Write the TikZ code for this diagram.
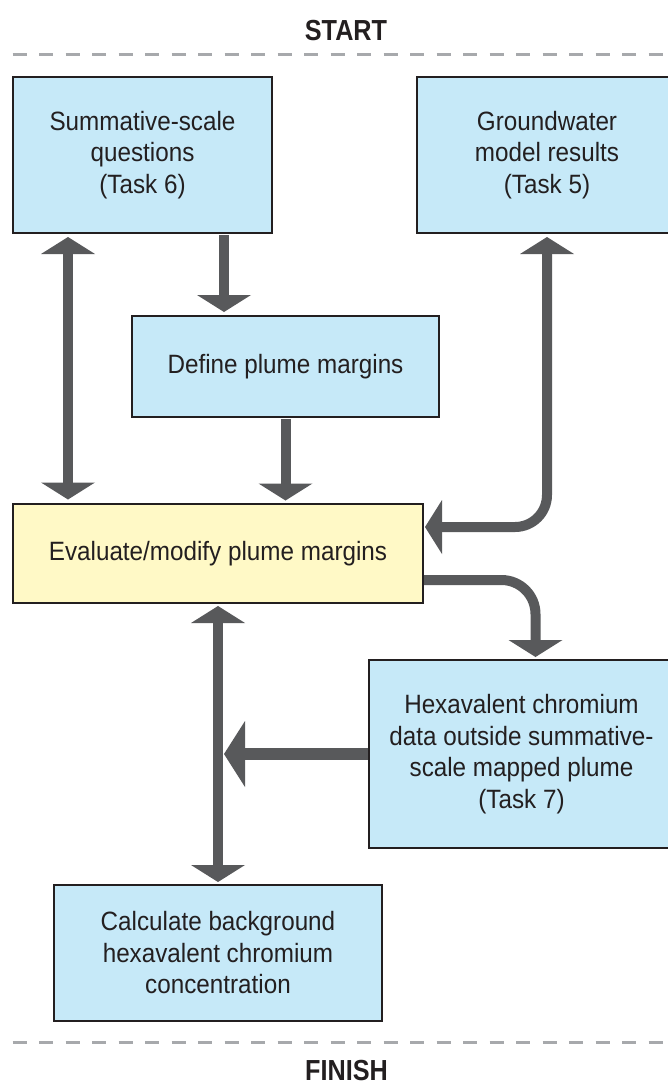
\documentclass[tikz,border=0pt]{standalone}
\usepackage{fontspec}
\setmainfont[FakeStretch=0.915]{Liberation Sans}
\newfontfamily\headfont[FakeStretch=0.87]{Liberation Sans}
\usetikzlibrary{arrows.meta,calc}
\definecolor{boxblue}{HTML}{C6E9F8}
\definecolor{boxyellow}{HTML}{FFF9C6}
\definecolor{arrowgray}{HTML}{58595B}
\definecolor{inkdark}{HTML}{231F20}
\definecolor{dashgray}{HTML}{A7A9AC}
\tikzset{
  box/.style={draw=inkdark, line width=2pt, rectangle, inner sep=0pt, align=center,
    text=inkdark, font=\fontsize{26.5pt}{31.5pt}\selectfont},
  bluebox/.style={box, fill=boxblue},
  yellowbox/.style={box, fill=boxyellow},
  headlabel/.style={text=inkdark, inner sep=0pt, anchor=base,
    font={\headfont\bfseries\fontsize{29pt}{29pt}\selectfont}},
  dashline/.style={draw=dashgray, line width=3pt, dash pattern=on 14pt off 12.5pt},
  arr/.style={draw=arrowgray, line width=10pt,
    -{Triangle[width=54pt,length=17pt,line width=0pt]}},
  dblarr/.style={draw=arrowgray, line width=10pt,
    {Triangle[width=54pt,length=17pt,line width=0pt]}-{Triangle[width=54pt,length=17pt,line width=0pt]}},
  bigarr/.style={draw=arrowgray, line width=12pt,
    -{Triangle[width=66pt,length=21pt,line width=0pt]}},
}
\begin{document}
\begin{tikzpicture}[x=1pt,y=-1pt]
\useasboundingbox (0,0) rectangle (668,1085);
\clip (0,0) rectangle (668,1085);

% headings and separators
\node[headlabel] (start) at (346,40) {START};
\node[headlabel] (finish) at (346.5,1080.5) {FINISH};
\draw[dashline] (12.7,54) -- (680,54);
\draw[dashline] (12.7,1042) -- (680,1042);

% boxes
\node[bluebox, minimum width=259pt, minimum height=156pt] (sq) at (142.5,155)
  {Summative-scale\\questions\\(Task 6)};
\node[bluebox, minimum width=260pt, minimum height=156pt] (gw) at (547,155)
  {Groundwater\\model results\\(Task 5)};
\node[bluebox, minimum width=307pt, minimum height=101pt] (def) at (285.5,366.5)
  {Define plume margins};
\node[yellowbox, minimum width=410pt, minimum height=99pt] (eval) at (218,553.5)
  {Evaluate/modify plume margins};
\node[bluebox, minimum width=305pt, minimum height=188pt] (hex) at (521.5,754)
  {Hexavalent chromium\\data outside summative-\\scale mapped plume\\(Task 7)};
\node[bluebox, minimum width=328pt, minimum height=136pt] (calc) at (218,953)
  {Calculate background\\hexavalent chromium\\concentration};

% connectors
\draw[dblarr, shorten <=3pt, shorten >=3.5pt]
  ([xshift=56pt]sq.south west) -- ([xshift=56pt]sq.south west |- eval.north);
\draw[arr, shorten <=1pt, shorten >=3pt]
  ([xshift=-49pt]sq.south east) -- ([xshift=-49pt]sq.south east |- def.north);
\draw[arr, shorten <=1pt, shorten >=2.5pt]
  (def.south) -- (def.south |- eval.north);
\draw[dblarr, rounded corners=32pt, shorten <=3pt, shorten >=1pt]
  (gw.south) |- ([yshift=26.5pt]eval.east);
\draw[arr, rounded corners=34pt, shorten <=0pt, shorten >=2pt]
  ([yshift=-26.5pt]eval.east) -| ([xshift=14pt]hex.north);
\draw[bigarr, shorten <=0pt, shorten >=0pt]
  (hex.west) -- ([xshift=6pt]eval.south |- hex.west);
\draw[dblarr, shorten <=2pt, shorten >=2pt]
  (eval.south) -- (calc.north);
\end{tikzpicture}
\end{document}
